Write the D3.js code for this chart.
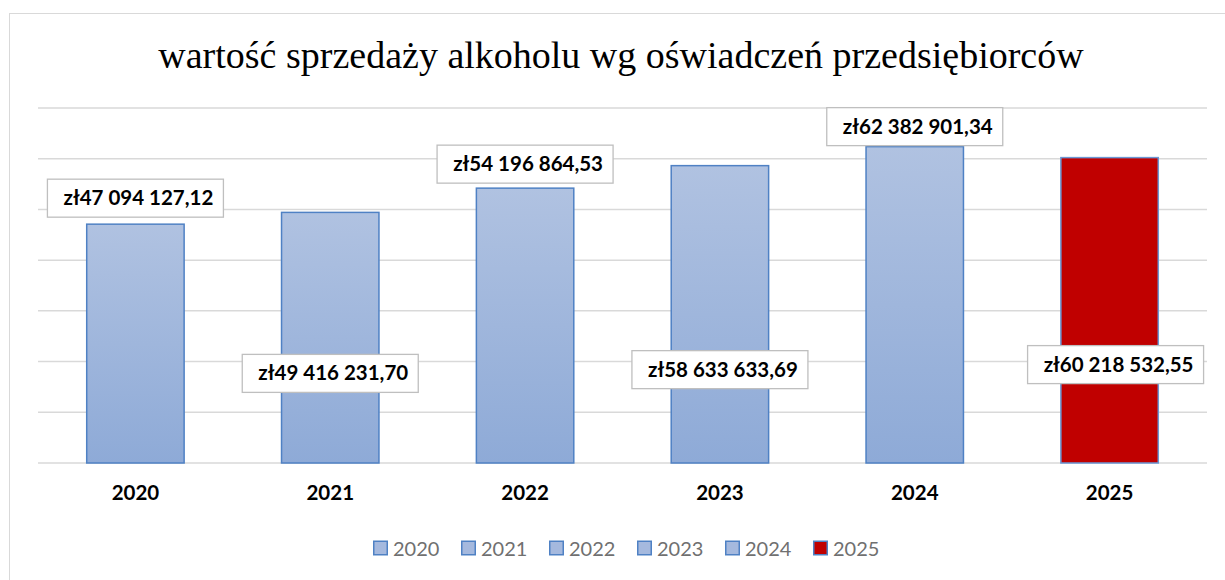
<html>
<head>
<meta charset="utf-8">
<style>
  body { margin: 0; background: #fff; }
</style>
</head>
<body>
<svg id="container" width="1225" height="580"></svg>
<script src="https://cdn.jsdelivr.net/npm/d3@7"></script>
<script>
    // data
    let years = ["2020", "2021", "2022", "2023", "2024", "2025"]
    let sales = [47094127.12, 49416231.70, 54196864.53, 58633633.69, 62382901.34, 60218532.55]
    let gridTicks = [0, 10e6, 20e6, 30e6, 40e6, 50e6, 60e6, 70e6]
    let title = "wartość sprzedaży alkoholu wg oświadczeń przedsiębiorców"

    // label placement (px relative to bar top), manual like in the source chart
    let labelDy = [-26, 161, -24, 204, -20, 207]
    let labelDx = [0, 0, 0, 0, 0, 6]

    let svg = d3.select("#container")
    let labelFont = "Lato, 'Open Sans', sans-serif"

    let plPL = d3.formatLocale({
        decimal: ",", thousands: " ", grouping: [3], currency: ["zł", ""]
    })
    let fmt = plPL.format("$,.2f")

    // outer frame (right and bottom edges fall outside the picture)
    svg.append("rect")
        .attr("x", 9.5).attr("y", 13.5)
        .attr("width", 1240).attr("height", 600)
        .attr("fill", "none")
        .attr("stroke", "#d9d9d9")

    svg.append("text")
        .attr("x", 621).attr("y", 68)
        .attr("text-anchor", "middle")
        .attr("font-family", "'Liberation Serif', 'Times New Roman', serif")
        .attr("font-size", 38)
        .attr("fill", "#000")
        .text(title)

    let x = d3.scaleBand()
        .domain(years)
        .range([38, 1207])
        .paddingInner(0.5)
        .paddingOuter(0.25)

    let y = d3.scaleLinear()
        .domain([0, 70e6])
        .range([463, 108])

    // gridlines
    svg.append("g")
        .selectAll("line")
        .data(gridTicks)
        .enter().append("line")
        .attr("x1", 38).attr("x2", 1207)
        .attr("y1", d => y(d)).attr("y2", d => y(d))
        .attr("stroke", "#d9d9d9")
        .attr("stroke-width", 1.5)

    let defs = svg.append("defs")
    let grad = defs.append("linearGradient")
        .attr("id", "barGrad")
        .attr("x1", 0).attr("y1", 0).attr("x2", 0).attr("y2", 1)
    grad.append("stop").attr("offset", "0%").attr("stop-color", "#b0c2e1")
    grad.append("stop").attr("offset", "100%").attr("stop-color", "#8eaad7")

    // bars
    svg.append("g")
        .selectAll("rect")
        .data(years)
        .enter().append("rect")
        .attr("x", d => x(d))
        .attr("width", x.bandwidth())
        .attr("y", (d, i) => y(sales[i]))
        .attr("height", (d, i) => y(0) - y(sales[i]))
        .attr("fill", (d, i) => i == years.length - 1 ? "#c00000" : "url(#barGrad)")
        .attr("stroke", (d, i) => i == years.length - 1 ? "#6b97d4" : "#4f81c4")
        .attr("stroke-width", 1.5)

    // x axis labels
    let xAxis = d3.axisBottom(x).tickSize(0).tickPadding(0)
    let xg = svg.append("g")
        .attr("transform", "translate(0,463)")
        .call(xAxis)
    xg.select(".domain").remove()
    xg.selectAll("text")
        .attr("y", 37)
        .attr("dy", 0)
        .attr("font-family", labelFont)
        .attr("font-size", 20.5)
        .attr("font-weight", "bold")
        .attr("fill", "#000")

    // data labels
    let lab = svg.append("g")
        .selectAll("g")
        .data(years)
        .enter().append("g")
        .attr("transform", (d, i) =>
            "translate(" + (x(d) + x.bandwidth() / 2 + labelDx[i]) + "," + (y(sales[i]) + labelDy[i]) + ")")

    lab.append("rect")
        .attr("x", -88).attr("y", -19)
        .attr("width", 176).attr("height", 38)
        .attr("fill", "#fff")
        .attr("stroke", "#bfbfbf")
        .attr("stroke-width", 1.3)

    lab.append("text")
        .attr("x", 3)
        .attr("y", 7)
        .attr("text-anchor", "middle")
        .attr("font-family", labelFont)
        .attr("font-size", 20.5)
        .attr("font-weight", "bold")
        .attr("fill", "#000")
        .text((d, i) => fmt(sales[i]))

    // legend
    let legend = svg.append("g")
        .selectAll("g")
        .data(years)
        .enter().append("g")
        .attr("transform", (d, i) => "translate(" + (373 + i * 88) + ",548)")

    legend.append("rect")
        .attr("x", 0.75).attr("y", -6.75)
        .attr("width", 13.5).attr("height", 13.5)
        .attr("fill", (d, i) => i == years.length - 1 ? "#c00000" : "#a5b9de")
        .attr("stroke", "#4f81c4")
        .attr("stroke-width", 1.5)

    legend.append("text")
        .attr("x", 20)
        .attr("y", 7.5)
        .attr("font-family", labelFont)
        .attr("font-size", 20)
        .attr("fill", "#707070")
        .text(d => d)
</script>
</body>
</html>
